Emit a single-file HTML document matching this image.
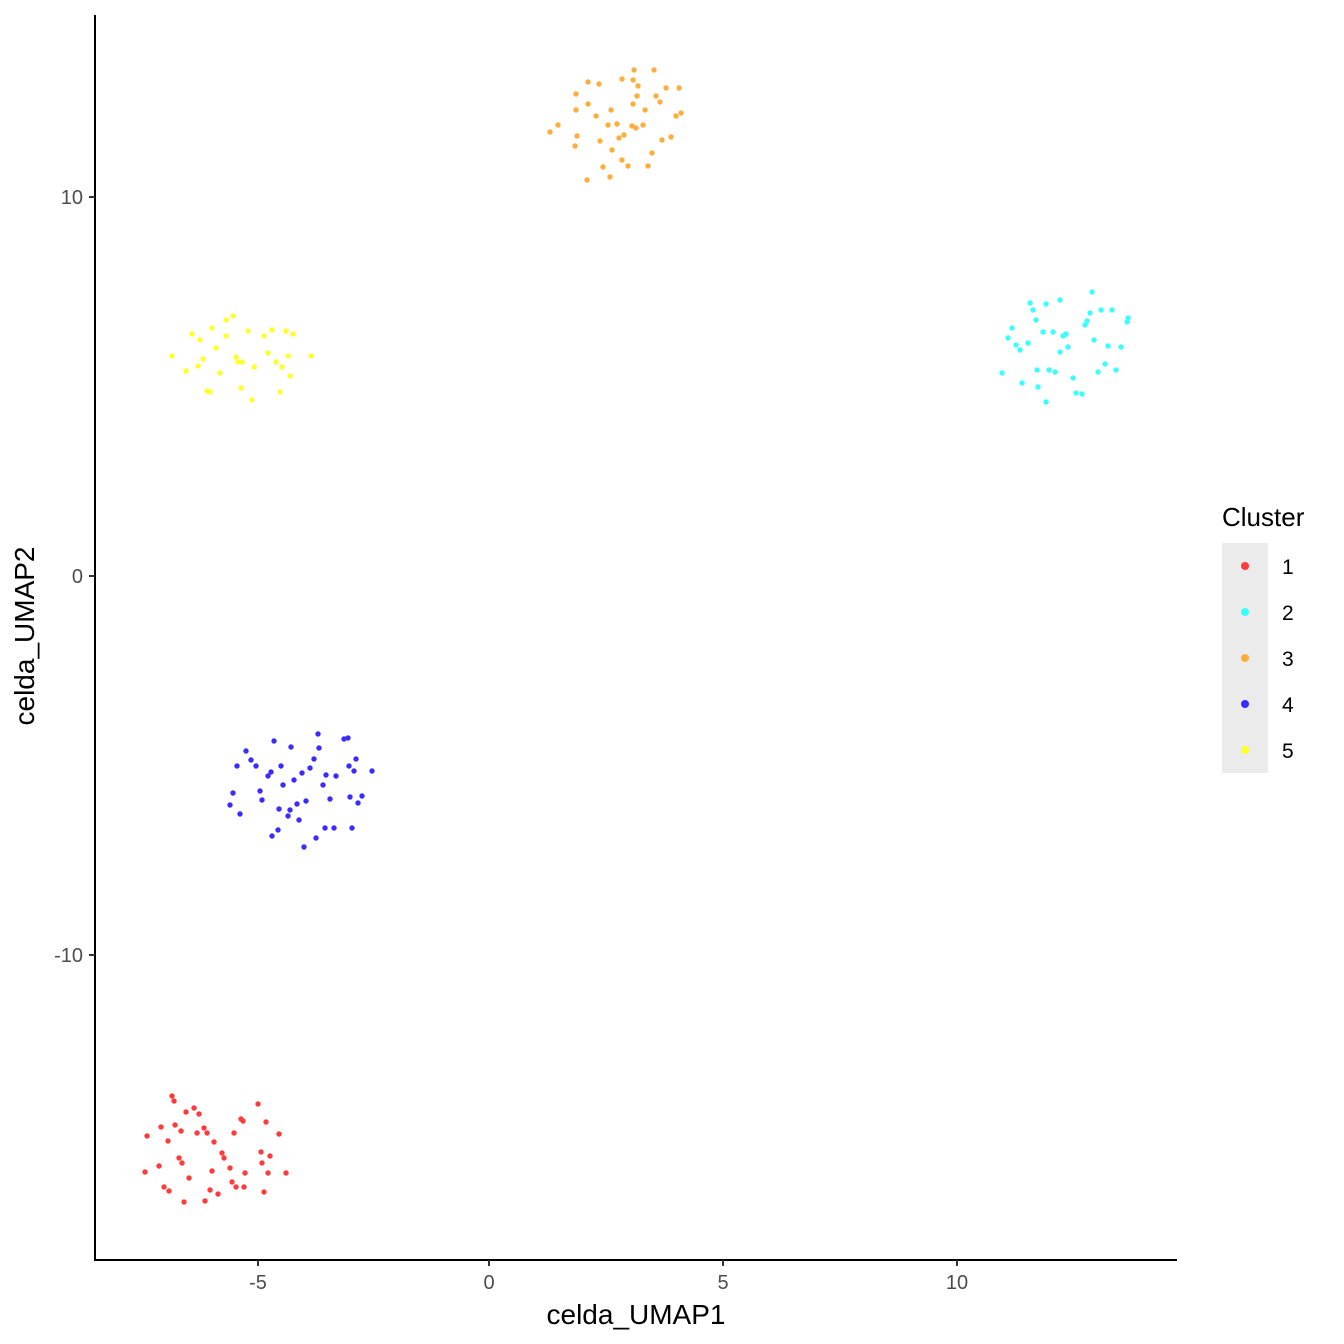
<!DOCTYPE html>
<html><head><style>body{margin:0;background:#fff}svg{display:block}</style></head>
<body>
<svg id="s" width="1344" height="1344" xmlns="http://www.w3.org/2000/svg" font-family="Liberation Sans, Arial, sans-serif">
<rect width="1344" height="1344" fill="#fff"/>
<g id="pts"></g>
<line x1="95" y1="15" x2="95" y2="1261" stroke="#000" stroke-width="2"/>
<line x1="94" y1="1260" x2="1177" y2="1260" stroke="#000" stroke-width="2"/>
<g stroke="#333" stroke-width="2">
<line x1="89" y1="197" x2="95" y2="197"/><line x1="89" y1="576" x2="95" y2="576"/><line x1="89" y1="955" x2="95" y2="955"/>
<line x1="258" y1="1260" x2="258" y2="1266"/><line x1="489" y1="1260" x2="489" y2="1266"/><line x1="723" y1="1260" x2="723" y2="1266"/><line x1="957" y1="1260" x2="957" y2="1266"/>
</g>
<g fill="#4d4d4d" font-size="20" text-anchor="end">
<text x="83" y="204">10</text><text x="83" y="583">0</text><text x="83" y="962">-10</text>
</g>
<g fill="#4d4d4d" font-size="20" text-anchor="middle">
<text x="258" y="1289">-5</text><text x="489" y="1289">0</text><text x="723" y="1289">5</text><text x="957" y="1289">10</text>
</g>
<text x="636" y="1324" font-size="28" text-anchor="middle">celda_UMAP1</text>
<text transform="translate(34,636) rotate(-90)" font-size="28" text-anchor="middle">celda_UMAP2</text>
<text x="1222" y="526" font-size="26">Cluster</text>
<rect x="1222" y="543" width="46" height="230" fill="#ebebeb"/>
<g>
<circle cx="1245" cy="566" r="4" fill="#ff3b3b"/><circle cx="1245" cy="612" r="4" fill="#3bffff"/><circle cx="1245" cy="658" r="4" fill="#ffad3b"/><circle cx="1245" cy="704" r="4" fill="#3b2bff"/><circle cx="1245" cy="750" r="4" fill="#ffff2b"/>
</g>
<g font-size="21">
<text x="1282" y="574">1</text><text x="1282" y="620">2</text><text x="1282" y="666">3</text><text x="1282" y="712">4</text><text x="1282" y="758">5</text>
</g>
</svg>
<script>
var C={
"#ffad3b":[[550,132],[558,125],[576,94],[588,82],[599,84],[576,110],[588,104],[577,136],[575,146],[587,180],[600,141],[603,167],[610,177],[612,150],[608,125],[617,124],[622,160],[624,135],[628,166],[633,80],[634,70],[633,104],[636,128],[637,96],[638,86],[643,125],[648,166],[654,70],[656,96],[652,153],[660,102],[662,140],[666,88],[671,137],[676,116],[679,88],[681,113],[611,110],[622,79],[632,126],[619,138],[596,116],[645,110]],
"#3bffff":[[1002,373],[1008,338],[1012,328],[1020,350],[1022,383],[1028,343],[1030,303],[1033,310],[1036,320],[1037,370],[1038,387],[1043,332],[1046,402],[1046,304],[1049,370],[1053,332],[1055,372],[1060,300],[1060,352],[1063,336],[1068,347],[1073,378],[1076,393],[1082,394],[1085,325],[1087,321],[1090,313],[1092,292],[1094,340],[1098,372],[1101,310],[1105,364],[1108,346],[1112,310],[1116,370],[1121,347],[1127,322],[1128,318],[1016,345],[1066,334]],
"#ffff2b":[[172,356],[186,371],[192,334],[198,366],[200,340],[203,359],[207,391],[210,392],[212,328],[216,348],[220,373],[226,320],[226,336],[233,316],[236,357],[238,362],[241,388],[242,362],[248,331],[252,400],[254,367],[264,336],[268,353],[272,330],[276,362],[280,392],[282,367],[286,331],[290,376],[293,334],[311,356],[288,356]],
"#3b2bff":[[230,805],[233,793],[237,766],[240,814],[246,751],[251,760],[256,766],[260,791],[262,800],[268,776],[271,772],[272,836],[274,741],[278,830],[279,809],[281,766],[283,785],[288,816],[290,810],[291,747],[294,780],[297,804],[299,820],[302,773],[304,847],[306,801],[310,768],[314,759],[316,838],[318,734],[319,748],[323,785],[325,828],[326,775],[330,799],[334,828],[336,776],[344,739],[348,738],[349,766],[350,797],[352,828],[354,771],[356,759],[358,803],[362,796],[372,771]],
"#ff3b3b":[[145,1172],[147,1136],[159,1166],[161,1127],[164,1187],[168,1141],[169,1191],[172,1096],[174,1101],[175,1125],[179,1158],[181,1131],[182,1163],[184,1202],[186,1112],[189,1178],[194,1108],[197,1133],[199,1114],[204,1128],[205,1201],[207,1133],[210,1190],[212,1171],[214,1142],[218,1194],[222,1153],[224,1158],[230,1168],[232,1182],[234,1133],[236,1187],[241,1119],[243,1121],[244,1187],[245,1173],[258,1104],[261,1152],[262,1163],[264,1192],[266,1122],[270,1156],[279,1134],[286,1173],[268,1173]]};
var g=document.getElementById('pts'),h='';
for(var c in C)C[c].forEach(function(p){h+='<circle cx="'+p[0]+'" cy="'+p[1]+'" r="2.7" fill="'+c+'"/>';});
g.innerHTML=h;
</script>
</body></html>
